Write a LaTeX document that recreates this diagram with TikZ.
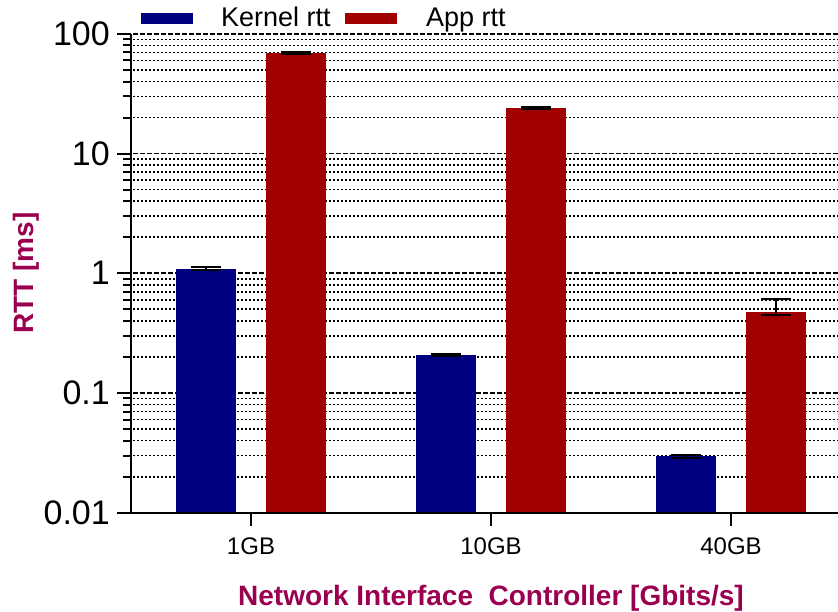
\documentclass[tikz,border=0pt]{standalone}
\usepackage{fontspec}
\setmainfont{Liberation Sans}
\definecolor{kernelblue}{RGB}{0,0,128}
\definecolor{appred}{RGB}{160,0,0}
\definecolor{titlecol}{RGB}{155,0,80}

% one bar with its error bar: #1 left edge, #2 value, #3 lower, #4 upper, #5 style
\newcommand\rttbar[5]{%
  \fill[#5] (#1,99.3) rectangle ({#1+60},{ly(#2)});
  \draw[errbar] ({#1+30},{ly(#3)}) -- ({#1+30},{ly(#4)});
  \draw[errbar] ({#1+15},{ly(#3)}) -- ({#1+45},{ly(#3)});
  \draw[errbar] ({#1+15},{ly(#4)}) -- ({#1+45},{ly(#4)});
}

\begin{document}
\begin{tikzpicture}[x=1pt,y=1pt,
  declare function={ly(\v)=99.3+119.7*(log10(\v)+2);},
  majorgrid/.style={line width=1.7pt, dash pattern=on 4.5pt off 2.5pt},
  minorgrid/.style={line width=1.7pt, dash pattern=on 2pt off 2pt},
  axisline/.style={line width=2pt},
  kbar/.style={fill=kernelblue},
  abar/.style={fill=appred},
  errbar/.style={line width=2pt, black},
  ticklabel/.style={font=\fontsize{34}{34}\selectfont, inner sep=0pt, anchor=east},
  catlabel/.style={font=\fontsize{24}{24}\selectfont, inner sep=0pt},
  axistitle/.style={font=\fontsize{28}{28}\selectfont\bfseries, text=titlecol, inner sep=0pt},
  legendtext/.style={font=\fontsize{27}{27}\selectfont, inner sep=0pt, anchor=base west},
]
\useasboundingbox (0,0) rectangle (838,612);

% grid lines and minor ticks
\foreach \d in {-2,-1,0,1} {
  \foreach \m in {2,...,9} {
    \pgfmathsetmacro\gy{99.3+119.7*(\d+2+log10(\m))}
    \draw[minorgrid] (133,\gy) -- (838,\gy);
    \draw[axisline] (123,\gy) -- (131,\gy);
  }
}
\foreach \d in {1,2,3,4} {
  \pgfmathsetmacro\gy{99.3+119.7*\d}
  \draw[majorgrid] (133,\gy) -- (838,\gy);
}

% bars
\rttbar{176}{1.087}{1.064}{1.122}{kbar}
\rttbar{266}{69.25}{67.5}{70.2}{abar}
\rttbar{416}{0.208}{0.204}{0.212}{kbar}
\rttbar{506}{24.04}{23.4}{24.6}{abar}
\rttbar{656}{0.0298}{0.0285}{0.0301}{kbar}
\rttbar{746}{0.475}{0.446}{0.61}{abar}

% axes
\draw[axisline] (131,99.3) -- (131,578.1);
\draw[axisline] (117,99.3) -- (838,99.3);
\foreach \d in {1,2,3,4} {
  \draw[axisline] (117,{99.3+119.7*\d}) -- (131,{99.3+119.7*\d});
}
\foreach \x in {251,491,731} {
  \draw[axisline] (\x,99.3) -- (\x,86);
}

% tick labels
\node[ticklabel] (t001) at (110,99.3) {0.01};
\node[ticklabel] (t01)  at (110,219.0) {0.1};
\node[ticklabel] (t1)   at (110,338.7) {1};
\node[ticklabel] (t10)  at (110,458.4) {10};
\node[ticklabel] (t100) at (110,578.1) {100};

\node[catlabel] (c1)  at (251,66) {1GB};
\node[catlabel] (c10) at (491,66) {10GB};
\node[catlabel] (c40) at (731,66) {40GB};

% axis titles
\node[axistitle, anchor=base] (xtitle) at (491,6) {Network Interface\ \ Controller [Gbits/s]};
\node[axistitle, anchor=base, rotate=90] (ytitle) at (33,339) {RTT [ms]};

% legend
\fill[kernelblue] (141,588) rectangle (193,599);
\node[legendtext] (lk) at (221,585.3) {Kernel rtt};
\fill[appred] (345,588) rectangle (397,599);
\node[legendtext] (la) at (426,585.3) {App rtt};
\end{tikzpicture}
\end{document}
